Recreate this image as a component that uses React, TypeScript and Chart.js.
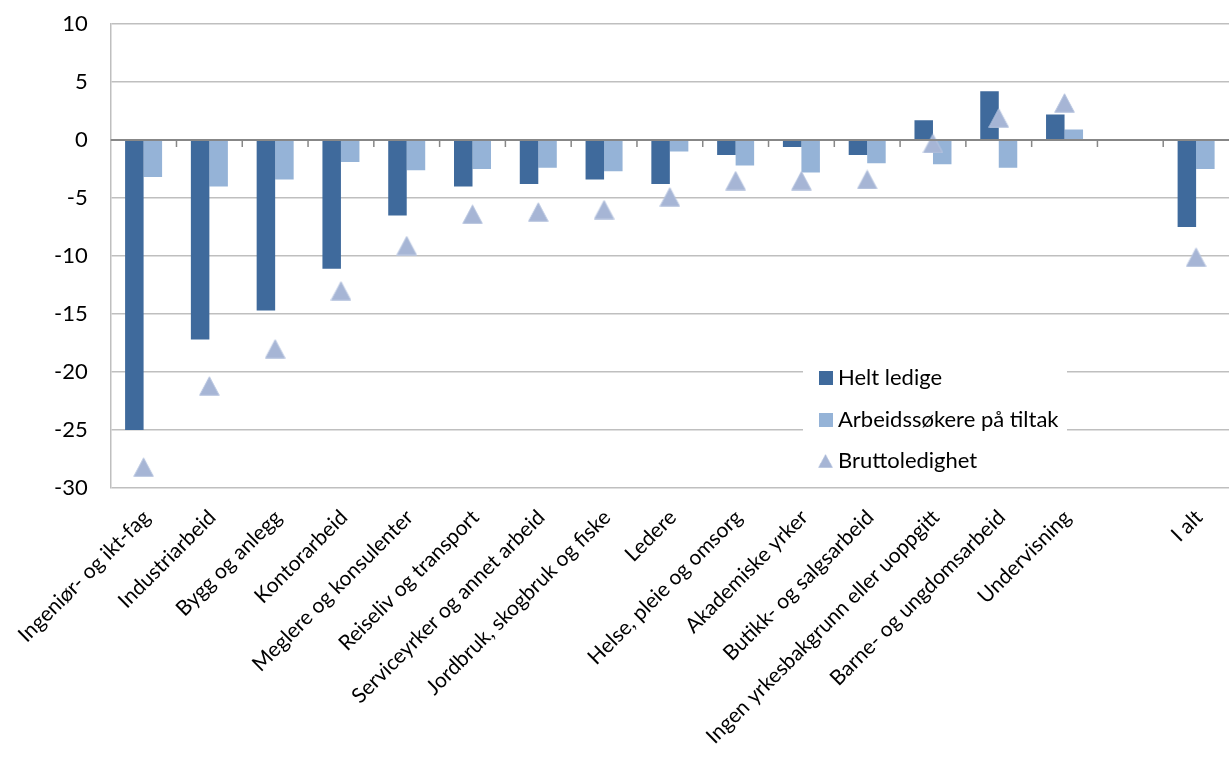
import { useEffect, useRef } from "react";
import { Chart, registerables } from "chart.js";

Chart.register(...registerables);

const categories = [
  "Ingeniør- og ikt-fag",
  "Industriarbeid",
  "Bygg og anlegg",
  "Kontorarbeid",
  "Meglere og konsulenter",
  "Reiseliv og transport",
  "Serviceyrker og annet arbeid",
  "Jordbruk, skogbruk og fiske",
  "Ledere",
  "Helse, pleie og omsorg",
  "Akademiske yrker",
  "Butikk- og salgsarbeid",
  "Ingen yrkesbakgrunn eller uoppgitt",
  "Barne- og ungdomsarbeid",
  "Undervisning",
  "",
  "I alt",
];

const heltLedige = [-25.0, -17.2, -14.7, -11.1, -6.5, -4.0, -3.8, -3.4, -3.8, -1.3, -0.6, -1.3, 1.7, 4.2, 2.2, null, -7.5];
const tiltak = [-3.2, -4.0, -3.4, -1.9, -2.6, -2.5, -2.4, -2.7, -1.0, -2.2, -2.8, -2.0, -2.1, -2.4, 0.9, null, -2.5];
const brutto = [-28.2, -21.2, -18.0, -13.0, -9.1, -6.4, -6.2, -6.0, -4.9, -3.5, -3.5, -3.4, -0.3, 1.9, 3.2, null, -10.1];

const seriesNames = ["Helt ledige", "Arbeidssøkere på tiltak", "Bruttoledighet"];

const yMin = -30;
const yMax = 10;
const yStep = 5;

const FONT = "Lato, 'Noto Sans', sans-serif";
const DARK = "#3F6A9C";
const LIGHT = "#95B3D7";
const TRI_FILL = "#A6B5D5";
const TRI_STROKE = "#B9C6E0";

function makeTriangle(): HTMLCanvasElement {
  const c = document.createElement("canvas");
  c.width = 21;
  c.height = 20;
  const g = c.getContext("2d")!;
  g.beginPath();
  g.moveTo(10.5, 0.8);
  g.lineTo(20.3, 19.3);
  g.lineTo(0.7, 19.3);
  g.closePath();
  g.fillStyle = TRI_FILL;
  g.fill();
  g.strokeStyle = TRI_STROKE;
  g.lineWidth = 1;
  g.stroke();
  return c;
}

export default function App() {
  const ref = useRef<HTMLCanvasElement | null>(null);

  useEffect(() => {
    if (!ref.current) return;
    const tri = makeTriangle();

    const overlay = {
      id: "excelOverlay",
      afterDatasetsDraw(chart: any) {
        const { ctx, chartArea, scales } = chart;
        const x = scales.x;
        const y = scales.y;
        const y0 = y.getPixelForValue(0);
        ctx.save();
        ctx.strokeStyle = "#878787";
        ctx.lineWidth = 2;
        ctx.beginPath();
        ctx.moveTo(chartArea.left, y0);
        ctx.lineTo(chartArea.right, y0);
        ctx.stroke();
        ctx.lineWidth = 1.5;
        ctx.beginPath();
        for (let i = 1; i < categories.length; i++) {
          const xp = (x.getPixelForValue(i - 1) + x.getPixelForValue(i)) / 2;
          ctx.moveTo(xp, y0);
          ctx.lineTo(xp, y0 + 7);
        }
        ctx.stroke();
        ctx.restore();
      },
      afterDraw(chart: any) {
        const { ctx } = chart;
        const ds = chart.data.datasets;
        ctx.save();
        ctx.fillStyle = "#FFFFFF";
        ctx.fillRect(803, 360, 264, 122);
        ctx.font = `22px ${FONT}`;
        ctx.textBaseline = "middle";
        ctx.textAlign = "left";
        const rows = [378, 420, 461];
        ds.forEach((d: any, i: number) => {
          const cy = rows[i];
          if (d.type === "line") {
            ctx.drawImage(tri, 818, cy - 7, 15, 14);
          } else {
            ctx.fillStyle = d.backgroundColor;
            ctx.fillRect(819, cy - 7, 14, 14);
          }
          ctx.fillStyle = "#000000";
          ctx.fillText(d.label, 838, cy);
        });
        ctx.restore();
      },
    };

    const chart = new Chart(ref.current, {
      type: "bar",
      data: {
        labels: categories,
        datasets: [
          {
            type: "bar",
            label: seriesNames[0],
            data: heltLedige,
            backgroundColor: DARK,
            borderWidth: 0,
            categoryPercentage: 0.5625,
            barPercentage: 1,
            order: 2,
          },
          {
            type: "bar",
            label: seriesNames[1],
            data: tiltak,
            backgroundColor: LIGHT,
            borderWidth: 0,
            categoryPercentage: 0.5625,
            barPercentage: 1,
            order: 2,
          },
          {
            type: "line",
            label: seriesNames[2],
            data: brutto,
            showLine: false,
            pointStyle: tri as any,
            pointRadius: 10,
            backgroundColor: TRI_FILL,
            borderColor: TRI_STROKE,
            order: 0,
          } as any,
        ],
      },
      options: {
        responsive: false,
        animation: false,
        devicePixelRatio: 1,
        layout: { padding: { top: 24, right: 2, left: 0, bottom: 0 } },
        plugins: {
          legend: { display: false },
          tooltip: { enabled: false },
        },
        scales: {
          x: {
            grid: { display: false },
            border: { display: false },
            ticks: {
              autoSkip: false,
              maxRotation: 45,
              minRotation: 45,
              padding: 9,
              labelOffset: 3,
              color: "#000000",
              font: { family: FONT, size: 21 },
            },
            afterFit: (s: any) => {
              s.height = 274;
            },
          },
          y: {
            min: yMin,
            max: yMax,
            ticks: {
              stepSize: yStep,
              padding: 23,
              color: "#000000",
              font: { family: FONT, size: 22 },
            },
            grid: {
              color: "#BFBFBF",
              lineWidth: 1.5,
              drawTicks: false,
            },
            border: { display: true, color: "#BFBFBF", width: 1.5 },
            afterFit: (s: any) => {
              s.width = 110.7;
              s.paddingTop = 0;
              s.paddingBottom = 0;
            },
          },
        },
      },
      plugins: [overlay],
    });

    return () => chart.destroy();
  }, []);

  return (
    <div style={{ position: "fixed", left: 0, top: 0, width: 1232, height: 762, overflow: "hidden", background: "#fff" }}>
      <canvas ref={ref} width={1240} height={762} style={{ position: "absolute", left: 0, top: 0, width: 1240, height: 762 }} />
    </div>
  );
}
